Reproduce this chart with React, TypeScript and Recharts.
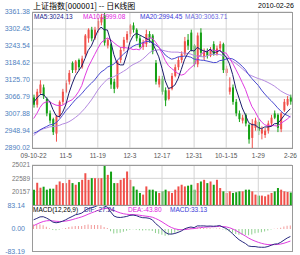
import React from 'react';
import {
  ComposedChart,
  Bar,
  Line,
  XAxis,
  YAxis,
  CartesianGrid,
  ReferenceLine,
  Cell,
} from 'recharts';

// ─── Data ─────────────────────────────────────────────────────────────────────

const tickIndex = [0, 10, 20, 30, 40, 50, 60, 70, 80];
const tickLabels = ['09-10-22', '11-5', '11-19', '12-3', '12-17', '12-31', '10-1-15', '1-29', '2-26'];

const priceTicks = [2890.02, 2948.94, 3007.88, 3066.79, 3125.7, 3184.62, 3243.54, 3302.45, 3361.38];
const volumeTicks = [17725, 20157, 22589, 25021];
const macdTicks = [-83.19, 0, 83.14];

const openPrice = [
  3065, 3040, 3080, 3100, 3060, 3010, 2990, 2940, 3000, 3050,
  3085, 3120, 3185, 3160, 3195, 3170, 3215, 3270, 3300, 3270,
  3300, 3325, 3350, 3245, 3250, 3120, 3100, 3195, 3235, 3265,
  3285, 3315, 3300, 3270, 3240, 3250, 3285, 3280, 3185, 3110,
  3130, 3090, 3060, 3095, 3140, 3170, 3195, 3215, 3265, 3290,
  3245, 3180, 3290, 3205, 3225, 3210, 3250, 3215, 3235, 3250,
  3150, 3085, 3100, 3050, 3010, 2985, 3005, 2970, 2925, 2960,
  2980, 2940, 2935, 2950, 2975, 3010, 3005, 2955, 3020, 3040,
  3065,
];
const highPrice = [
  3075, 3095, 3125, 3110, 3065, 3020, 2995, 3005, 3055, 3095,
  3125, 3160, 3190, 3195, 3200, 3210, 3285, 3305, 3310, 3310,
  3340, 3355, 3361.38, 3270, 3255, 3130, 3195, 3240, 3275, 3295,
  3320, 3325, 3305, 3280, 3265, 3300, 3295, 3285, 3195, 3140,
  3140, 3100, 3100, 3150, 3180, 3205, 3225, 3275, 3285, 3300,
  3250, 3290, 3305, 3235, 3235, 3240, 3260, 3245, 3260, 3255,
  3175, 3135, 3110, 3060, 3020, 3005, 3010, 2975, 2990, 2995,
  2990, 2965, 2960, 2985, 3005, 3020, 3010, 3015, 3060, 3070,
  3075,
];
const lowPrice = [
  3030, 3030, 3075, 3060, 3000, 2975, 2935, 2912, 2995, 3040,
  3080, 3110, 3150, 3150, 3160, 3165, 3205, 3255, 3260, 3265,
  3290, 3315, 3245, 3235, 3095, 3080, 3095, 3185, 3225, 3255,
  3275, 3290, 3260, 3235, 3230, 3240, 3255, 3215, 3110, 3100,
  3075, 3035, 3055, 3090, 3135, 3160, 3185, 3210, 3230, 3225,
  3170, 3170, 3205, 3195, 3200, 3205, 3210, 3210, 3225, 3150,
  3140, 3075, 3040, 3000, 2980, 2975, 2965, 2905, 2890.02, 2950,
  2935, 2920, 2925, 2940, 2965, 2990, 2945, 2945, 3015, 3035,
  3040,
];
const closePrice = [
  3040, 3085, 3110, 3070, 3010, 2985, 2945, 3000, 3050, 3085,
  3115, 3150, 3160, 3190, 3170, 3200, 3280, 3300, 3270, 3300,
  3330, 3345, 3255, 3265, 3110, 3095, 3190, 3230, 3265, 3285,
  3315, 3300, 3270, 3240, 3255, 3285, 3270, 3225, 3120, 3130,
  3085, 3055, 3090, 3140, 3170, 3195, 3215, 3260, 3245, 3230,
  3180, 3280, 3220, 3225, 3210, 3230, 3215, 3235, 3250, 3160,
  3165, 3100, 3050, 3010, 2990, 2995, 2975, 2920, 2975, 2985,
  2950, 2955, 2950, 2975, 2995, 2995, 2960, 3010, 3050, 3060,
  3051,
];
const volume = [
  20520, 21780, 20880, 21060, 20520, 20700, 20700, 21420, 22020, 21720,
  21720, 22320, 21720, 21420, 21900, 22320, 23520, 22320, 22620, 22620,
  22620, 22620, 25021, 23221, 23815, 21720, 21720, 22320, 22620, 23815,
  22320, 21115, 20520, 19920, 19620, 21115, 20520, 20520, 20215, 19920,
  20215, 20520, 20215, 19920, 20520, 21115, 21420, 21115, 21250, 21420,
  20520, 21720, 22015, 22320, 21720, 22015, 21420, 22320, 20820, 20215,
  19920, 20215, 19920, 20060, 20215, 20215, 20520, 20520, 20215, 19620,
  19440, 19440, 19315, 19620, 19920, 20215, 20820, 20520, 20215, 20100,
  20000,
];
// closes before the first visible day, only feed the MA / MACD lines
const warmupClose = [
  3113, 3140, 3047, 2870, 2911, 2785, 2859, 2960, 3008, 2920, 2953, 2928, 2860, 2667, 2683, 2716,
  2802, 2861, 2908, 2924, 2875, 2906, 2956, 2977, 2943, 3026,
  3000, 2960, 2950, 2905, 2870, 2910, 2880, 2830, 2800, 2800,
  2911, 2894, 2927, 2965, 2983, 3010, 3050, 3065, 3075,
];

// ─── Styling ──────────────────────────────────────────────────────────────────

const UP = '#f0504a';
const DOWN = '#14a014';
const GRID = '#d4d4d4';
const FRAME = '#9a9a9a';
const FONT = "'Liberation Sans', Arial, sans-serif";
const W = 300;
const LEFT = 32;
const RIGHT = 8;

// ─── Indicators ───────────────────────────────────────────────────────────────

const allClose = warmupClose.concat(closePrice);
const off = warmupClose.length;

function sma(n: number, i: number) {
  let s = 0;
  for (let k = off + i - n + 1; k <= off + i; k++) s += allClose[k];
  return s / n;
}

function ema(src: number[], n: number) {
  const a = 2 / (n + 1);
  const out: number[] = [];
  src.forEach((v, k) => out.push(k === 0 ? v : out[k - 1] * (1 - a) + v * a));
  return out;
}

const ema12 = ema(allClose, 12);
const ema26 = ema(allClose, 26);
const difAll = ema12.map((v, k) => v - ema26[k]);
const deaAll = ema(difAll, 9);

const rows = closePrice.map((c, i) => {
  const dif = difAll[off + i];
  const dea = deaAll[off + i];
  return {
    i,
    open: openPrice[i],
    high: highPrice[i],
    low: lowPrice[i],
    close: c,
    range: [lowPrice[i], highPrice[i]],
    vol: volume[i],
    ma5: sma(5, i),
    ma10: sma(10, i),
    ma20: sma(20, i),
    ma30: sma(30, i),
    dif,
    dea,
    macd: 2 * (dif - dea),
  };
});

// ─── Shapes ───────────────────────────────────────────────────────────────────

function Candle(props: any) {
  const { x, y, width, height, payload } = props;
  const { open, close, high, low } = payload;
  const color = close >= open ? UP : DOWN;
  const top = Math.min(y, y + height);
  const h = Math.abs(height);
  const py = (p: number) => top + ((high - p) / (high - low || 1)) * h;
  const cx = x + width / 2;
  const b1 = py(Math.max(open, close));
  const b2 = py(Math.min(open, close));
  return (
    <g>
      <line x1={cx} x2={cx} y1={top} y2={top + h} stroke={color} strokeWidth={1} />
      <rect x={x} y={b1} width={width} height={Math.max(1, b2 - b1)} fill={color} />
    </g>
  );
}

function DateTick(props: any) {
  const { x, y, payload } = props;
  const k = tickIndex.indexOf(payload.value);
  return (
    <text x={x} y={y + 8} textAnchor="middle" fontSize={6.5} fontFamily={FONT} fill="#555">
      {tickLabels[k]}
    </text>
  );
}

const frame = (top: number, height: number): React.CSSProperties => ({
  position: 'absolute',
  left: LEFT,
  top,
  width: W - LEFT - RIGHT + 1,
  height: height + 1,
  boxSizing: 'border-box',
  border: `1px solid ${FRAME}`,
  pointerEvents: 'none',
});

const txt = (left: number, top: number, color: string, size = 6.5): React.CSSProperties => ({
  position: 'absolute',
  left,
  top,
  color,
  fontSize: size,
  fontFamily: FONT,
  lineHeight: 1,
  whiteSpace: 'nowrap',
});

const gridX = tickIndex.slice(1, -1);

export default function App() {
  return (
    <div style={{ position: 'absolute', left: 0, top: 0, width: W, height: 255, background: '#fff', overflow: 'hidden' }}>
      {/* price panel */}
      <div style={{ position: 'absolute', left: 0, top: 0 }}>
        <ComposedChart width={W} height={160} data={rows} margin={{ top: 12, right: RIGHT, bottom: 0, left: 0 }}>
          <CartesianGrid vertical={false} stroke={GRID} />
          <XAxis
            dataKey="i"
            type="category"
            ticks={tickIndex}
            interval={0}
            height={12}
            axisLine={false}
            tickLine={false}
            tickSize={0}
            tick={<DateTick />}
          />
          <YAxis
            domain={[priceTicks[0], priceTicks[priceTicks.length - 1]]}
            ticks={priceTicks}
            interval={0}
            allowDataOverflow
            width={LEFT}
            axisLine={false}
            tickLine={false}
            tickSize={0}
            tickMargin={2}
            tickFormatter={(v: number) => v.toFixed(2)}
            tick={{ fontSize: 7, fill: '#4f7fc0', fontFamily: FONT }}
          />
          {gridX.map((g) => (
            <ReferenceLine key={g} x={g} stroke={GRID} />
          ))}
          <Bar dataKey="range" barSize={2} shape={<Candle />} isAnimationActive={false} />
          <Line dataKey="ma30" stroke="#b48ae0" strokeWidth={1} dot={false} isAnimationActive={false} />
          <Line dataKey="ma20" stroke="#4a4ad0" strokeWidth={1} dot={false} isAnimationActive={false} />
          <Line dataKey="ma10" stroke="#e03ce0" strokeWidth={1} dot={false} isAnimationActive={false} />
          <Line dataKey="ma5" stroke="#1c1c6c" strokeWidth={1} dot={false} isAnimationActive={false} />
        </ComposedChart>
      </div>

      {/* volume panel */}
      <div style={{ position: 'absolute', left: 0, top: 158 }}>
        <ComposedChart width={W} height={48} data={rows} margin={{ top: 7, right: RIGHT, bottom: 1, left: 0 }}>
          <CartesianGrid vertical={false} stroke={GRID} />
          <XAxis dataKey="i" type="category" hide />
          <YAxis
            domain={[volumeTicks[0], volumeTicks[volumeTicks.length - 1]]}
            ticks={volumeTicks.slice(1)}
            interval={0}
            allowDataOverflow
            width={LEFT}
            axisLine={false}
            tickLine={false}
            tickSize={0}
            tickMargin={2}
            tick={{ fontSize: 6.5, fill: '#777', fontFamily: FONT }}
          />
          {gridX.map((g) => (
            <ReferenceLine key={g} x={g} stroke={GRID} />
          ))}
          <Bar dataKey="vol" barSize={2} isAnimationActive={false}>
            {rows.map((r) => (
              <Cell key={r.i} fill={r.close >= r.open ? UP : DOWN} />
            ))}
          </Bar>
        </ComposedChart>
      </div>

      {/* MACD panel */}
      <div style={{ position: 'absolute', left: 0, top: 198 }}>
        <ComposedChart width={W} height={57} data={rows} margin={{ top: 8, right: RIGHT, bottom: 3, left: 0 }}>
          <XAxis dataKey="i" type="category" hide />
          <YAxis
            domain={[macdTicks[0], macdTicks[2]]}
            ticks={macdTicks}
            interval={0}
            allowDataOverflow
            width={LEFT}
            axisLine={false}
            tickLine={false}
            tickSize={0}
            tickMargin={7}
            tickFormatter={(v: number) => v.toFixed(2)}
            tick={{ fontSize: 7, fill: '#4f7fc0', fontFamily: FONT }}
          />
          <YAxis yAxisId="hist" hide domain={[-210, 210]} allowDataOverflow />
          <Bar yAxisId="hist" dataKey="macd" barSize={1} isAnimationActive={false}>
            {rows.map((r) => (
              <Cell key={r.i} fill={r.macd >= 0 ? '#f29a9a' : '#8fd08f'} />
            ))}
          </Bar>
          <Line dataKey="dea" stroke="#e03ce0" strokeWidth={1} dot={false} isAnimationActive={false} />
          <Line dataKey="dif" stroke="#2a2a80" strokeWidth={1} dot={false} isAnimationActive={false} />
        </ComposedChart>
      </div>

      <div style={frame(12, 136)} />
      <div style={frame(165, 40)} />
      <div style={frame(205, 46)} />

      <div style={{ ...txt(33, 1, '#000', 8), lineHeight: '10px', fontFamily: "'Noto Sans CJK SC', sans-serif" }}>
        上证指数[000001] -- 日K线图
      </div>
      <div style={txt(258, 2, '#000', 7)}>2010-02-26</div>

      <div style={txt(34, 14, '#1c1c8c')}>MA5:3024.13</div>
      <div style={txt(83, 14, '#e020e0')}>MA10:2999.08</div>
      <div style={txt(140, 14, '#3a3ad8')}>MA20:2994.45</div>
      <div style={txt(185, 14, '#6a6ae0')}>MA30:3063.71</div>

      <div style={txt(33, 207, '#000')}>MACD(12,26,9)</div>
      <div style={txt(84, 207, '#2a2a90')}>DIF:-27.24</div>
      <div style={txt(128, 207, '#e020e0')}>DEA:-43.80</div>
      <div style={txt(170, 207, '#3a3ad8')}>MACD:33.13</div>
    </div>
  );
}
